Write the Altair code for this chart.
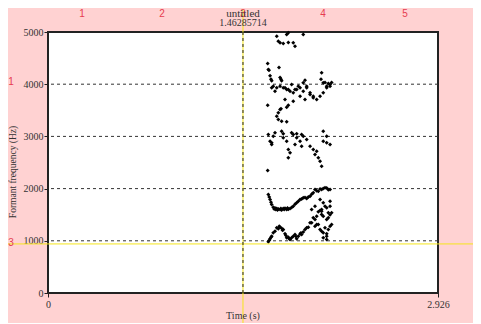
import altair as alt
import pandas as pd

# ---------------- data ----------------
f1_time = [1.653, 1.660, 1.666, 1.673, 1.678, 1.690, 1.703, 1.716, 1.728, 1.741, 1.753, 1.765,
           1.778, 1.791, 1.803, 1.816, 1.828, 1.840, 1.853, 1.866, 1.878, 1.891, 1.903, 1.915,
           1.928, 1.941, 1.953, 1.966, 1.978, 1.990, 2.003, 2.016, 2.028, 2.041, 2.053, 2.078,
           2.003, 2.016, 2.028, 2.041, 2.053, 2.065, 2.065, 2.078, 2.091, 2.091, 2.091, 2.103,
           2.103, 2.116, 2.116, 2.128,
           1.735, 1.760, 1.785, 1.810, 1.860, 1.897]
f1_hz = [981, 1010, 1040, 1070, 1088, 1153, 1184, 1249, 1230, 1261, 1240, 1217,
         1134, 1058, 1069, 1025, 1058, 1088, 1121, 1040, 1088, 1130, 1121, 1170,
         1217, 1249, 1261, 1345, 1345, 1441, 1408, 1471, 1556, 1580, 1600, 1663,
         1280, 1312, 1312, 1217, 1184, 1153, 1060, 1249, 1134, 1088, 1025, 1441,
         1217, 1280, 1500, 1537,
         1280, 1200, 1100, 1040, 1080, 1150]

f2_time = [1.653, 1.660, 1.666, 1.673, 1.678, 1.690, 1.703, 1.716, 1.728, 1.741, 1.753, 1.765,
           1.778, 1.791, 1.803, 1.816, 1.828, 1.840, 1.853, 1.866, 1.878, 1.891, 1.903, 1.915,
           1.928, 1.941, 1.953, 1.966, 1.978, 1.990, 2.003, 2.016, 2.028, 2.041, 2.053, 2.065,
           2.078, 2.091, 2.103, 2.116,
           1.978, 2.003, 2.041, 2.053, 2.053, 2.065, 2.065, 2.091, 2.091, 2.103, 2.116, 2.116,
           2.128,
           1.697, 1.709, 1.722, 1.747, 1.772, 1.797]
f2_hz = [1887, 1840, 1791, 1740, 1696, 1644, 1630, 1619, 1610, 1600, 1590, 1619,
         1625, 1600, 1605, 1619, 1640, 1663, 1700, 1728, 1760, 1791, 1800, 1824,
         1830, 1811, 1840, 1855, 1890, 1920, 1983, 1960, 1950, 1990, 1983, 2000,
         2016, 2010, 1980, 1983,
         1600, 1663, 1791, 1567, 1504, 1728, 1471, 1632, 1408, 1537, 1759, 1663,
         1312,
         1610, 1600, 1590, 1620, 1600, 1630]

f3_time = [1.648, 1.653, 1.666, 1.678, 1.678, 1.690, 1.703, 1.753, 1.765, 1.765, 1.791, 1.803,
           1.816, 1.803, 1.828, 1.840, 1.853, 1.866, 1.866, 1.891, 1.903, 1.903, 1.915, 1.941,
           1.966, 1.990, 2.003, 2.016, 2.028, 2.041, 2.053, 2.065, 2.065, 2.091, 2.091, 2.116,
           1.648, 1.716, 1.728, 1.728, 1.741, 1.748, 1.753, 1.791, 1.791, 1.803]
f3_hz = [2347, 3037, 2909, 2845, 2878, 3004, 3069, 3100, 2974, 3050, 2909, 2750,
         2686, 2590, 3069, 3037, 2845, 2974, 3050, 2909, 2813, 3037, 3004, 2941,
         2813, 2750, 2654, 2717, 2590, 2525, 2429, 2909, 3100, 2878, 3004, 2845,
         3598, 3387, 3453, 3324, 3516, 3530, 3292, 3560, 3280, 3598]

f4_time = [1.648, 1.653, 1.658, 1.666, 1.673, 1.678, 1.678, 1.690, 1.703, 1.716, 1.733, 1.741,
           1.741, 1.748, 1.753, 1.765, 1.778, 1.778, 1.791, 1.803, 1.816, 1.828, 1.840, 1.840,
           1.853, 1.866, 1.878, 1.891, 1.891, 1.915, 1.915, 1.928, 1.928, 1.941, 1.941, 1.966,
           1.966, 1.990, 1.990, 2.016, 2.041, 2.048, 2.053, 2.065, 2.065, 2.078, 2.091, 2.091,
           2.103, 2.116, 2.116, 2.128]
f4_hz = [4397, 4280, 4269, 4162, 4096, 4064, 3932, 3962, 3867, 3930, 4320, 4129,
         3962, 4096, 4064, 3930, 3932, 3707, 3900, 3899, 3867, 3995, 3836, 3675,
         3899, 3900, 3962, 3930, 3771, 4030, 3867, 4077, 3707, 3962, 3932, 3836,
         3803, 3771, 3740, 3707, 3771, 4096, 4219, 4030, 3836, 4033, 3930, 3962,
         4014, 3962, 3995, 4033]

f5_time = [1.716, 1.728, 1.741, 1.765, 1.791, 1.803, 1.803, 1.840, 1.853, 1.915]
f5_hz = [4920, 4824, 4794, 4780, 4953, 4985, 4800, 4794, 4729, 4953]

time_max = 2.926
freq_max = 5000
x_ticks = [0, 2.926]
y_ticks = [0, 1000, 2000, 3000, 4000, 5000]
grid_hz = [1000, 2000, 3000, 4000]
cursor_time = 1.46285714
cursor_hz = 940
title_text = "untitled"
x_title = "Time (s)"
y_title = "Formant frequency (Hz)"
ruler_top = ["1", "2", "3", "4", "5"]
ruler_left = ["1", "3"]

# ---------------- styles / layout ----------------
W, H = 390, 261
PINK = "#FFD2D2"
DARK = "#222222"
LABEL = "#333333"
YELLOW = "#F5E51A"
RED = "#E63C50"
SERIF = "Liberation Serif"
SANS = "Liberation Sans"

rows = []
for ts, hs in [(f1_time, f1_hz), (f2_time, f2_hz), (f3_time, f3_hz),
               (f4_time, f4_hz), (f5_time, f5_hz)]:
    for t, h in zip(ts, hs):
        rows.append({"time": t, "hz": h})
pts = pd.DataFrame(rows)

xs = alt.Scale(domain=[0, time_max], nice=False, zero=False)
ys = alt.Scale(domain=[0, freq_max], nice=False)

grid = alt.Chart(pd.DataFrame({"hz": grid_hz})).mark_rule(
    color=LABEL, strokeDash=[3, 3], strokeWidth=1
).encode(y=alt.Y("hz:Q", scale=ys))

points = alt.Chart(pts).mark_point(
    shape="diamond", size=16, color="black", filled=True, opacity=1
).encode(
    x=alt.X("time:Q", scale=xs,
            axis=alt.Axis(values=x_ticks, format=".4~f", title=None, grid=False,
                          domain=False, tickSize=4, tickColor=DARK, labelFont=SERIF,
                          labelFontSize=10, labelColor=LABEL, labelPadding=2,
                          labelFlush=False)),
    y=alt.Y("hz:Q", scale=ys,
            axis=alt.Axis(values=y_ticks, format="d", title=None, grid=False, domain=False,
                          tickSize=4, tickColor=DARK, labelFont=SERIF, labelFontSize=10,
                          labelColor=LABEL, labelPadding=1)),
)

hline = alt.Chart(pd.DataFrame({"hz": [cursor_hz]})).mark_rule(
    color=YELLOW, strokeWidth=1
).encode(y=alt.Y("hz:Q", scale=ys), x=alt.value(-40), x2=alt.value(W + 35))

cur = pd.DataFrame({"time": [cursor_time], "label": [str(cursor_time)]})
vline = alt.Chart(cur).mark_rule(color=YELLOW, strokeWidth=1).encode(
    x=alt.X("time:Q", scale=xs), y=alt.value(-23), y2=alt.value(H + 35))
vdash = alt.Chart(cur).mark_rule(color=DARK, strokeWidth=1, strokeDash=[3, 3]).encode(
    x=alt.X("time:Q", scale=xs), y=alt.value(0), y2=alt.value(H))
cur_label = alt.Chart(cur).mark_text(
    font=SERIF, fontSize=10, color=LABEL, baseline="alphabetic", align="center"
).encode(x=alt.X("time:Q", scale=xs), y=alt.value(-6), text="label:N")

title = alt.Chart(pd.DataFrame({"t": [title_text]})).mark_text(
    font=SERIF, fontSize=11, color=LABEL, baseline="alphabetic", align="center"
).encode(x=alt.value(W / 2), y=alt.value(-15), text="t:N")

xt = alt.Chart(pd.DataFrame({"t": [x_title]})).mark_text(
    font=SERIF, fontSize=10, color=LABEL, baseline="middle", align="center"
).encode(x=alt.value(W / 2), y=alt.value(284), text="t:N")

yt = alt.Chart(pd.DataFrame({"t": [y_title]})).mark_text(
    font=SERIF, fontSize=9.5, color=LABEL, baseline="middle", align="center", angle=270
).encode(x=alt.value(-35), y=alt.value(140), text="t:N")

layers = [grid, points, hline, vline, vdash]

top_x = [34, 114, 195, 275, 357]
for lab, px in zip(ruler_top, top_x):
    layers.append(alt.Chart(pd.DataFrame({"t": [lab]})).mark_text(
        font=SANS, fontSize=10, color=RED, baseline="alphabetic", align="center"
    ).encode(x=alt.value(px), y=alt.value(-15), text="t:N"))

left_y = [50, 211]
for lab, py in zip(ruler_left, left_y):
    layers.append(alt.Chart(pd.DataFrame({"t": [lab]})).mark_text(
        font=SANS, fontSize=10, color=RED, baseline="middle", align="center"
    ).encode(x=alt.value(-37), y=alt.value(py), text="t:N"))

layers += [cur_label, title, xt, yt]

chart = alt.layer(*layers).properties(
    width=W, height=H,
    autosize=alt.AutoSizeParams(type="none"),
    padding={"left": 40, "top": 24, "right": 35, "bottom": 30},
).configure(background=PINK).configure_view(stroke=DARK, strokeWidth=2, fill="white")

chart.save("out.html", embed_options={"renderer": "svg", "actions": False})
